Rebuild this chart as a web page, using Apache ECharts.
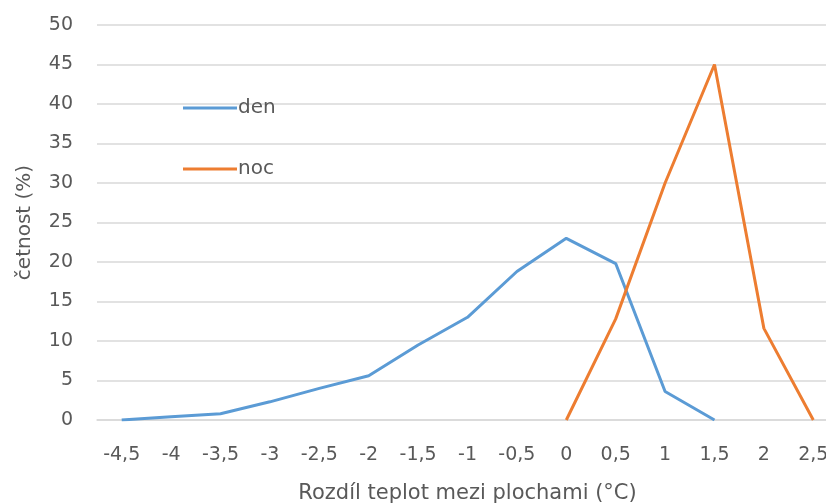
<!DOCTYPE html>
<html>
<head>
<meta charset="utf-8">
<script src="https://cdn.jsdelivr.net/npm/echarts@6/dist/echarts.min.js"></script>
<style>
html,body{margin:0;padding:0;background:#fff;overflow:hidden;}
#main{width:838px;height:504px;}
</style>
</head>
<body>
<div id="main"></div>
<script>
//x轴类别
var categories=['-4,5','-4','-3,5','-3','-2,5','-2','-1,5','-1','-0,5','0','0,5','1','1,5','2','2,5'];
//den数据
var denValues=[0,0.4,0.8,2.3,4,5.6,9.5,13,18.8,23,19.8,3.6,0,null,null];
//noc数据
var nocValues=[null,null,null,null,null,null,null,null,null,0,12.8,30,45,11.6,0];

var myChart=echarts.init(document.getElementById('main'));
var fontName='DejaVu Sans';
var textColor='#595959';
var option={
	animation:false,
	textStyle:{fontFamily:fontName},
	grid:{left:97,right:0,top:25,bottom:84,outerBoundsMode:'none',containLabel:false},
	legend:{
		orient:'vertical',
		left:178,
		top:93,
		itemGap:41,
		itemWidth:54,
		itemHeight:3,
		icon:'rect',
		textStyle:{fontFamily:fontName,fontSize:20,color:textColor,padding:[0,0,0,-4]},
		data:['den','noc']
	},
	xAxis:{
		type:'category',
		data:categories,
		boundaryGap:true,
		name:'Rozdíl teplot mezi plochami (°C)',
		nameLocation:'middle',
		nameGap:63,
		nameTextStyle:{fontFamily:fontName,fontSize:21,color:textColor},
		axisLine:{show:true,lineStyle:{color:'#d9d9d9',width:1.5}},
		axisTick:{show:false},
		axisLabel:{fontFamily:fontName,fontSize:19,color:textColor,margin:26}
	},
	yAxis:{
		type:'value',
		min:0,
		max:50,
		interval:5,
		name:'četnost (%)',
		nameLocation:'middle',
		nameGap:62,
		nameTextStyle:{fontFamily:fontName,fontSize:20,color:textColor},
		axisLine:{show:false},
		axisTick:{show:false},
		axisLabel:{fontFamily:fontName,fontSize:19,color:textColor,margin:24},
		splitLine:{lineStyle:{color:'#d9d9d9',width:1.5}}
	},
	series:[{
		name:'den',
		type:'line',
		data:denValues,
		showSymbol:false,
		symbol:'none',
		lineStyle:{color:'#5b9bd5',width:3},
		itemStyle:{color:'#5b9bd5'}
	},{
		name:'noc',
		type:'line',
		data:nocValues,
		showSymbol:false,
		symbol:'none',
		lineStyle:{color:'#ed7d31',width:3},
		itemStyle:{color:'#ed7d31'}
	}]
};
myChart.setOption(option);
</script>
</body>
</html>
